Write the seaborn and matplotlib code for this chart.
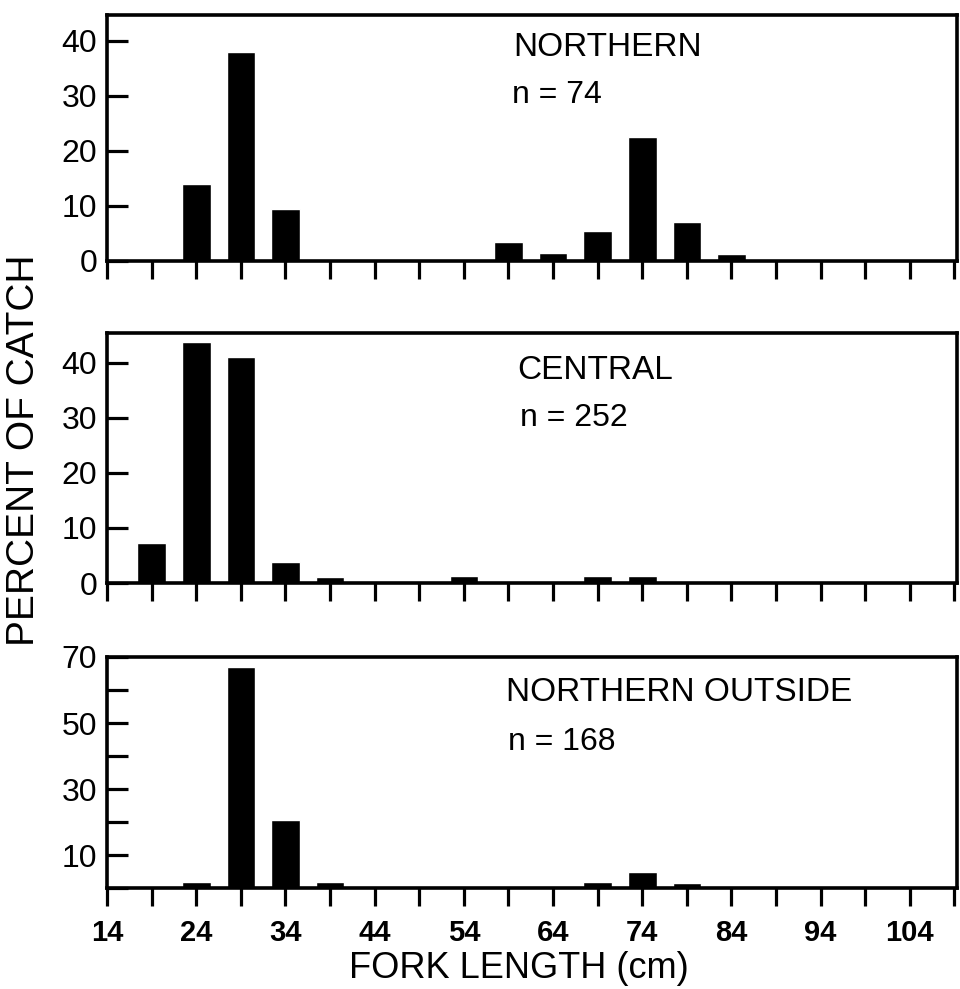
import matplotlib
matplotlib.use("Agg")
import matplotlib.pyplot as plt
import seaborn as sns
import pandas as pd

sns.set_style("white")
plt.rcParams['font.family'] = ['Liberation Sans', 'DejaVu Sans']
plt.rcParams['text.color'] = 'black'
plt.rcParams['xtick.color'] = 'black'
plt.rcParams['ytick.color'] = 'black'

# Data (percent of catch by fork length class, cm)
north_len = [24, 29, 34, 59, 64, 69, 74, 79, 84]
north_pct = [14, 38, 9.5, 3.5, 1.5, 5.5, 22.5, 7, 1.3]
central_len = [19, 24, 29, 34, 39, 54, 69, 74]
central_pct = [7.3, 43.8, 41, 3.8, 1.1, 1.2, 1.3, 1.2]
outside_len = [24, 29, 34, 39, 69, 74, 79]
outside_pct = [1.8, 67, 20.6, 1.8, 1.8, 4.8, 1.5]

titles = ["NORTHERN", "CENTRAL", "NORTHERN OUTSIDE"]
ns = ["n = 74", "n = 252", "n = 168"]
x_ticks = list(range(14, 110, 5))
x_labels = list(range(14, 105, 10))

fig = plt.figure(figsize=(9.6, 9.89), dpi=100)
left, right = 0.1115, 0.997
boxes = [(0.7361, 0.9848), (0.4105, 0.6633), (0.1021, 0.3357)]
ylims = [44.7, 45.4, 70]
data = [(north_len, north_pct), (central_len, central_pct), (outside_len, outside_pct)]
text_pos = [((513, 56), (512, 103)), ((517, 379), (520, 426)), ((506, 701), (508, 750))]

for i, ((b, t), (xs, ys)) in enumerate(zip(boxes, data)):
    ax = fig.add_axes([left, b, right - left, t - b])
    df = pd.DataFrame({"length": xs, "pct": ys})
    sns.barplot(data=df, x="length", y="pct", native_scale=True, width=0.64,
                color="black", saturation=1, ax=ax, errorbar=None)
    ax.set_xlim(14, 109.3)
    ax.set_ylim(0, ylims[i])
    ax.set_xlabel("")
    ax.set_ylabel("")
    for s in ax.spines.values():
        s.set_linewidth(2.6)
        s.set_color("black")
    ax.set_xticks(x_ticks)
    ax.tick_params(axis="x", direction="out", length=13, width=2.3,
                   bottom=True, labelsize=21, pad=9)
    if i == 2:
        ax.set_xticklabels([str(v) if v in x_labels else "" for v in x_ticks],
                           fontweight="bold")
        ax.set_yticks(range(0, 71, 10))
        ax.set_yticklabels(["", "10", "", "30", "", "50", "", "70"])
    else:
        ax.set_xticklabels([])
        ax.set_yticks(range(0, 41, 10))
        ax.set_yticklabels(["0", "10", "20", "30", "40"])
    ax.tick_params(axis="y", direction="in", length=15, width=2.3,
                   left=True, labelsize=23, pad=7)
    (tx, ty), (nx, ny) = text_pos[i]
    fig.text(tx / 960, 1 - ty / 989, titles[i], fontsize=24, ha="left", va="baseline")
    fig.text(nx / 960, 1 - ny / 989, ns[i], fontsize=23, ha="left", va="baseline")

fig.text(0.54, 1 - 978 / 989, "FORK LENGTH (cm)", fontsize=26, ha="center", va="baseline")
fig.text(0.006, 0.545, "PERCENT OF CATCH", fontsize=28, rotation=90, ha="left",
         va="center")

fig.savefig("out.png", dpi=100)
